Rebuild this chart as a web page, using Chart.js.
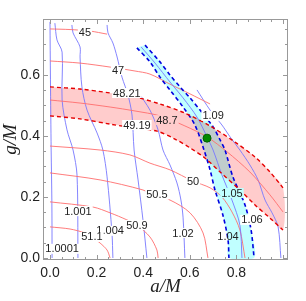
<!DOCTYPE html>
<html>
<head>
<meta charset="utf-8">
<script src="https://cdn.jsdelivr.net/npm/chart.js"></script>
<style>html,body{margin:0;padding:0;background:#fff;}</style>
</head>
<body>
<canvas id="c" width="306" height="301"></canvas>
<script>
// contours, each a list of [a/M, g/M]
// red family (values 45 ... 51.1)
const r45 = [[0,0.751],[0.086,0.749],[0.172,0.744],[0.245,0.734]];
const r47 = [[0,0.646],[0.129,0.639],[0.258,0.626],[0.365,0.613],[0.429,0.603],[0.515,0.570],[0.601,0.538],[0.687,0.505]];
const r4821 = [[0,0.561],[0.129,0.554],[0.258,0.541],[0.365,0.528],[0.472,0.505],[0.579,0.475],[0.687,0.433],[0.794,0.380],[0.880,0.331],[0.944,0.282],[1.0,0.230]];
const r487 = [[0,0.518],[0.129,0.508],[0.258,0.495],[0.365,0.482],[0.472,0.466],[0.579,0.433],[0.674,0.397],[0.760,0.348],[0.858,0.282],[0.944,0.207],[1.0,0.151]];
const r4919 = [[0,0.466],[0.129,0.456],[0.258,0.439],[0.365,0.426],[0.459,0.416],[0.536,0.390],[0.601,0.361],[0.665,0.328],[0.730,0.282],[0.815,0.223],[0.880,0.174],[0.944,0.131],[1.0,0.092]];
const r50 = [[0,0.367],[0.215,0.354],[0.343,0.338],[0.429,0.311],[0.515,0.289],[0.614,0.252],[0.687,0.230],[0.738,0.200],[0.781,0.151],[0.815,0.092],[0.837,0]];
const r505 = [[0,0.279],[0.215,0.256],[0.399,0.223],[0.438,0.207],[0.515,0.190],[0.601,0.148],[0.657,0.082],[0.678,0]];
const r509 = [[0,0.184],[0.185,0.167],[0.258,0.148],[0.330,0.125],[0.373,0.108],[0.429,0.069],[0.459,0.026],[0.464,0]];
const r511 = [[0,0.102],[0.086,0.095],[0.150,0.082],[0.180,0.069],[0.215,0.049],[0.245,0.026],[0.258,0]];

// blue family (values 1.0001 ... 1.09)
const b10001 = [[0,0.774],[0.002,0.584],[0.005,0.354],[0.008,0.190],[0.009,0]];
const b1001 = [[0.021,0.770],[0.030,0.715],[0.052,0.675],[0.052,0.518],[0.073,0.420],[0.099,0.354],[0.116,0.272],[0.120,0]];
const b1004 = [[0.094,0.764],[0.099,0.738],[0.129,0.692],[0.129,0.659],[0.137,0.561],[0.159,0.485],[0.202,0.410],[0.227,0.354],[0.245,0.266],[0.266,0.082],[0.270,0]];
const b101 = [[0.245,0.764],[0.249,0.738],[0.270,0.705],[0.288,0.659],[0.309,0.593],[0.335,0.534],[0.352,0.469],[0.361,0.354],[0.378,0.256],[0.399,0.125],[0.416,0]];
const b102 = [[0.378,0.544],[0.429,0.485],[0.464,0.420],[0.485,0.354],[0.515,0.305],[0.545,0.246],[0.562,0.190],[0.571,0.134],[0.579,0]];
const b104 = [[0.373,0.689],[0.429,0.643],[0.472,0.593],[0.515,0.551],[0.571,0.495],[0.622,0.436],[0.661,0.354],[0.687,0.289],[0.708,0.223],[0.742,0.141],[0.764,0.059],[0.768,0]];
const b105 = [[0.391,0.692],[0.451,0.639],[0.515,0.577],[0.571,0.525],[0.631,0.462],[0.674,0.397],[0.700,0.354],[0.738,0.272],[0.781,0.190],[0.815,0.108],[0.824,0]];
const b106 = [[0.408,0.698],[0.472,0.643],[0.515,0.600],[0.558,0.561],[0.601,0.525],[0.644,0.485],[0.700,0.430],[0.730,0.387],[0.751,0.354],[0.785,0.266],[0.837,0.174],[0.863,0.092],[0.876,0]];
const b109 = [[0.631,0.551],[0.687,0.485],[0.738,0.436],[0.773,0.397],[0.815,0.354],[0.858,0.305],[0.893,0.256],[0.923,0.190],[0.953,0.148],[0.979,0.102],[0.991,0]];

const bestFit = [0.674, 0.393];

// contour labels: text, a/M, g/M, background
const contourLabels = [
  ['45', 0.150, 0.741, '#fff'], ['47', 0.292, 0.616, '#fff'],
  ['48.21', 0.330, 0.541, '#fff'], ['48.7', 0.502, 0.452, '#ffcccc'],
  ['49.19', 0.373, 0.436, '#fff'], ['1.09', 0.700, 0.466, '#fff'],
  ['50', 0.614, 0.252, '#fff'], ['50.5', 0.459, 0.207, '#fff'],
  ['1.05', 0.781, 0.213, '#c0ffff'], ['1.06', 0.867, 0.125, '#fff'],
  ['1.02', 0.571, 0.082, '#fff'], ['1.04', 0.764, 0.072, null],
  ['50.9', 0.373, 0.108, '#fff'], ['1.001', 0.120, 0.154, '#fff'],
  ['1.004', 0.258, 0.089, '#fff'], ['51.1', 0.180, 0.069, '#fff'],
  ['1.0001', 0.052, 0.030, '#fff']
];

const xTickLabels = [0, 0.2, 0.4, 0.6, 0.8];
const yTickLabels = [0, 0.2, 0.4, 0.6];

const pts = arr => arr.map(p => ({x: p[0], y: p[1]}));
const RED = 'rgba(255,110,110,0.9)';
const BLUE = 'rgba(120,120,255,0.9)';

function curve(arr, color, width, dash) {
  return {data: pts(arr), showLine: true, borderColor: color, borderWidth: width || 1,
    borderDash: dash || [], pointRadius: 0, fill: false, tension: 0.3};
}
function band(a, b, color) {
  const poly = a.concat(b.slice().reverse());
  return {data: pts(poly), showLine: true, borderWidth: 0, borderColor: 'transparent',
    backgroundColor: color, pointRadius: 0, fill: 'shape', tension: 0.3};
}

const datasets = [
  {data: [{x: bestFit[0], y: bestFit[1]}], pointRadius: 4, backgroundColor: '#008a00', borderColor: '#006000', borderWidth: 1},
  curve(r4821, '#e60000', 1.4, [4, 3]),
  curve(r4919, '#e60000', 1.4, [4, 3]),
  curve(b104, '#0000e0', 1.6, [4, 3]),
  curve(b106, '#0000e0', 1.6, [4, 3]),
  curve(r487, RED), curve(b105, BLUE),
  curve(r45, RED), curve(r47, RED), curve(r50, RED), curve(r505, RED), curve(r509, RED), curve(r511, RED),
  curve(b10001, BLUE), curve(b1001, BLUE), curve(b1004, BLUE), curve(b101, BLUE), curve(b102, BLUE), curve(b109, BLUE),
  band(r4821, r4919, '#ffcccc'),
  band(b104, b106, '#c0ffff')
];

// fills multiply where the two bands overlap (grey region)
const blend = {
  id: 'blend',
  beforeDraw(chart) { chart.ctx.globalCompositeOperation = 'multiply'; },
  beforeDatasetsDraw(chart) { chart.ctx.globalCompositeOperation = 'source-over'; }
};

const frame = {
  id: 'frame',
  afterDatasetsDraw(chart) {
    const {ctx, chartArea: a, scales: {x, y}} = chart;
    ctx.save();
    // labels on the contours
    ctx.font = '11px "Liberation Sans", Arial, sans-serif';
    ctx.textAlign = 'center';
    ctx.textBaseline = 'middle';
    contourLabels.forEach(([t, vx, vy, bg]) => {
      const px = x.getPixelForValue(vx), py = y.getPixelForValue(vy);
      if (bg) {
        const w = ctx.measureText(t).width;
        ctx.fillStyle = bg;
        ctx.fillRect(px - w / 2 - 1, py - 5, w + 2, 10);
      }
      ctx.fillStyle = '#222';
      ctx.fillText(t, px, py + 0.5);
    });
    // frame with inward ticks on every side
    ctx.strokeStyle = '#999';
    ctx.lineWidth = 1;
    ctx.strokeRect(a.left + 0.5, a.top + 0.5, a.right - a.left - 1, a.bottom - a.top - 1);
    ctx.beginPath();
    for (let i = 0; i <= 20; i++) {
      const v = i * 0.05, px = Math.round(x.getPixelForValue(v)) + 0.5;
      if (px > a.right - 1) break;
      const len = i % 4 === 0 ? 5 : 3;
      ctx.moveTo(px, a.bottom); ctx.lineTo(px, a.bottom - len);
      ctx.moveTo(px, a.top); ctx.lineTo(px, a.top + len);
    }
    for (let i = 0; i <= 15; i++) {
      const v = i * 0.05, py = Math.round(y.getPixelForValue(v)) + 0.5;
      if (py < a.top + 1) break;
      const len = i % 4 === 0 ? 5 : 3;
      ctx.moveTo(a.left, py); ctx.lineTo(a.left + len, py);
      ctx.moveTo(a.right, py); ctx.lineTo(a.right - len, py);
    }
    ctx.stroke();
    ctx.restore();
  }
};

new Chart(document.getElementById('c'), {
  type: 'scatter',
  data: {datasets},
  plugins: [blend, frame],
  options: {
    responsive: false,
    animation: false,
    devicePixelRatio: 1,
    layout: {padding: {top: 19, right: 18, left: 0, bottom: 0}},
    plugins: {legend: {display: false}, tooltip: {enabled: false}, filler: {drawTime: 'beforeDatasetsDraw'}},
    scales: {
      x: {
        type: 'linear', min: -0.03, max: 1.0215,
        grid: {display: false, drawTicks: false}, border: {display: false},
        afterBuildTicks: s => { s.ticks = xTickLabels.map(v => ({value: v})); },
        afterFit: s => { s.height = 41; },
        ticks: {padding: 5, color: '#222', font: {family: '"Liberation Sans", Arial, sans-serif', size: 14},
          maxRotation: 0, callback: v => v.toFixed(1)},
        title: {display: true, text: 'a/M', color: '#222', padding: {top: 0, bottom: 3},
          font: {family: '"Liberation Serif", "Times New Roman", serif', size: 19, style: 'italic'}}
      },
      y: {
        type: 'linear', min: -0.0066, max: 0.7836,
        grid: {display: false, drawTicks: false}, border: {display: false},
        afterBuildTicks: s => { s.ticks = yTickLabels.map(v => ({value: v})); },
        afterFit: s => { s.width = 43; },
        ticks: {padding: 3, color: '#222', font: {family: '"Liberation Sans", Arial, sans-serif', size: 14},
          callback: v => v.toFixed(1)},
        title: {display: true, text: 'g/M', color: '#222', padding: {top: 0, bottom: 0},
          font: {family: '"Liberation Serif", "Times New Roman", serif', size: 19, style: 'italic'}}
      }
    }
  }
});
</script>
</body>
</html>
